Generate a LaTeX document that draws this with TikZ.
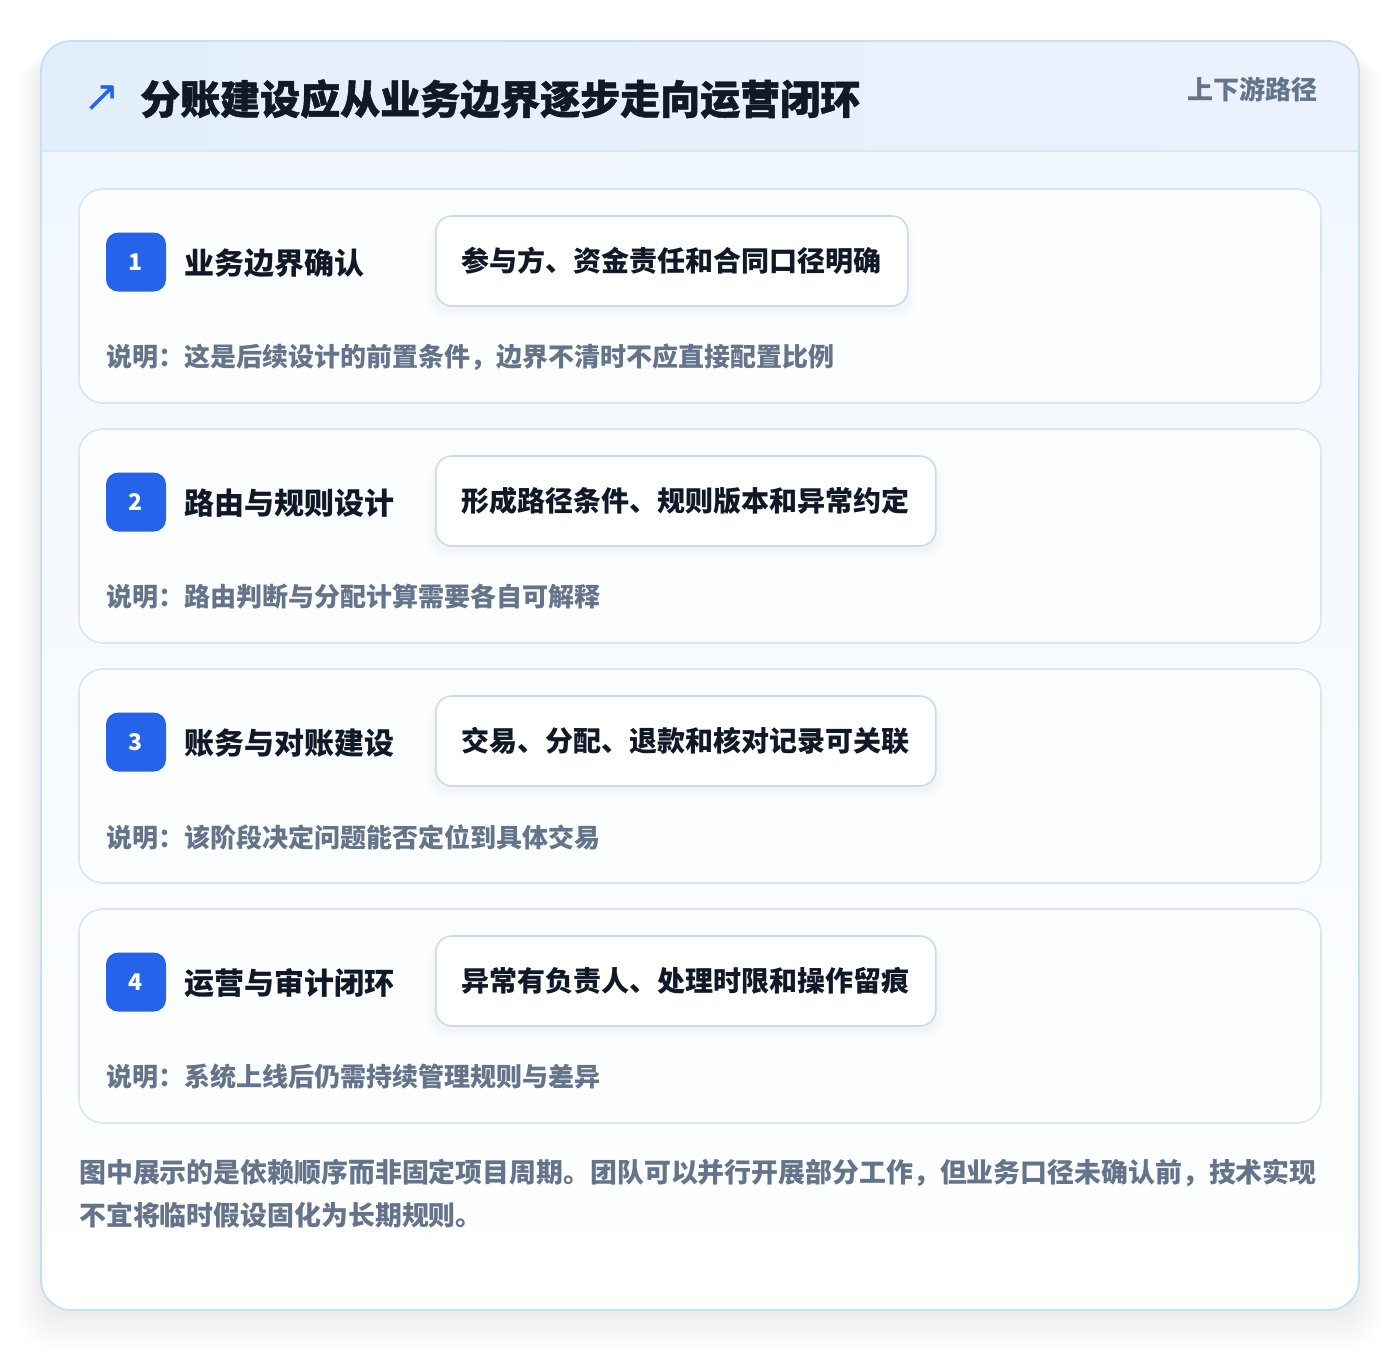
\documentclass[tikz,border=0pt]{standalone}
\usepackage{fontspec}
\setmainfont{Noto Sans CJK SC}
\newfontfamily\heavyfont[BoldFeatures={FakeBold=1.2}]{Noto Sans CJK SC}
\newfontfamily\symfont{DejaVu Sans}
\definecolor{brandblue}{HTML}{2563EB}
\definecolor{titleink}{HTML}{111827}
\definecolor{mutedink}{HTML}{64748B}
\definecolor{outerline}{HTML}{C3E0F4}
\definecolor{cardline}{HTML}{D8E7F7}
\definecolor{pillline}{HTML}{C6DAF3}
\definecolor{headleft}{HTML}{E2EEFB}
\definecolor{headright}{HTML}{ECF2FD}
\definecolor{bodytop}{HTML}{F0F7FE}
\definecolor{cardfill}{HTML}{FCFDFF}
\tikzset{
  cardbox/.style={draw=cardline, line width=1.6pt, fill=cardfill, rounded corners=24pt},
  badgebox/.style={fill=brandblue, rounded corners=12pt, minimum width=60pt, minimum height=59pt, inner sep=0pt,
    text=white, font=\fontsize{23}{26}\selectfont\bfseries},
  steptitle/.style={anchor=west, inner sep=0pt, text=titleink, font=\fontsize{30}{36}\selectfont\bfseries},
  pillbox/.style={anchor=west, draw=pillline, line width=1.6pt, fill=white, rounded corners=16pt,
    minimum height=90pt, inner xsep=26pt, text=titleink, font=\fontsize{28}{34}\selectfont\bfseries},
  desctext/.style={anchor=west, inner sep=0pt, text=mutedink, font=\fontsize{26}{32}\selectfont\bfseries},
}
\begin{document}
\begin{tikzpicture}[x=1pt,y=-1pt]
\useasboundingbox (0,0) rectangle (1400,1352);
\fill[white] (0,0) rectangle (1400,1352);
% soft shadow of the outer card
\foreach \k in {1,...,18}{
  \fill[black, opacity=0.005, rounded corners=34pt] (41-\k*1.3,41+14) rectangle (1359+\k*1.3,1310+4+\k*2);
}
% outer card
\begin{scope}
  \clip[rounded corners=30pt] (41,41) rectangle (1359,1310);
  \fill[white] (41,41) rectangle (1359,1310);
  \shade[top color=bodytop, bottom color=white] (41,151) rectangle (1359,1310);
  \shade[left color=headleft, right color=headright] (41,41) rectangle (1359,151);
  \draw[cardline, line width=1.5pt] (41,151) -- (1359,151);
\end{scope}
\draw[outerline, line width=1.8pt, rounded corners=30pt] (41,41) rectangle (1359,1310);
% header
\node[anchor=center, inner sep=0pt, text=brandblue, font=\symfont\fontsize{44}{44}\selectfont] (icon) at (102,99) {↗};
\node[anchor=west, inner sep=0pt, text=titleink, font=\heavyfont\fontsize{40}{46}\selectfont\bfseries] (title) at (140,99) {分账建设应从业务边界逐步走向运营闭环};
\node[anchor=east, inner sep=0pt, text=mutedink, font=\fontsize{26}{30}\selectfont\bfseries] (tag) at (1318,89) {上下游路径};
% steps
\foreach \i/\w/\t/\p/\d in {
  1/908/{业务边界确认}/{参与方、资金责任和合同口径明确}/{说明：这是后续设计的前置条件，边界不清时不应直接配置比例},
  2/937/{路由与规则设计}/{形成路径条件、规则版本和异常约定}/{说明：路由判断与分配计算需要各自可解释},
  3/937/{账务与对账建设}/{交易、分配、退款和核对记录可关联}/{说明：该阶段决定问题能否定位到具体交易},
  4/937/{运营与审计闭环}/{异常有负责人、处理时限和操作留痕}/{说明：系统上线后仍需持续管理规则与差异}}{
  \pgfmathsetmacro{\cardtop}{189+240*(\i-1)}
  \draw[cardbox] (79,\cardtop) rectangle (1321,\cardtop+214);
  \node[badgebox] (badge\i) at (136,\cardtop+73) {\i};
  \node[steptitle] (title\i) at (184,\cardtop+74) {\t};
  \foreach \k in {1,...,8}{
    \fill[black, opacity=0.005, rounded corners=16pt] (435-\k,\cardtop+36) rectangle (\w+\k,\cardtop+122+\k);
  }
  \node[pillbox] (pill\i) at (435,\cardtop+72) {\p};
  \node[desctext] (desc\i) at (106,\cardtop+168) {\d};
}
% footer
\node[anchor=north west, inner sep=0pt, align=left, text=mutedink, font=\fontsize{26.9}{43}\selectfont\bfseries] (footer) at (79,1159)
  {图中展示的是依赖顺序而非固定项目周期。团队可以并行开展部分工作，但业务口径未确认前，技术实现\\不宜将临时假设固化为长期规则。};
\end{tikzpicture}
\end{document}
